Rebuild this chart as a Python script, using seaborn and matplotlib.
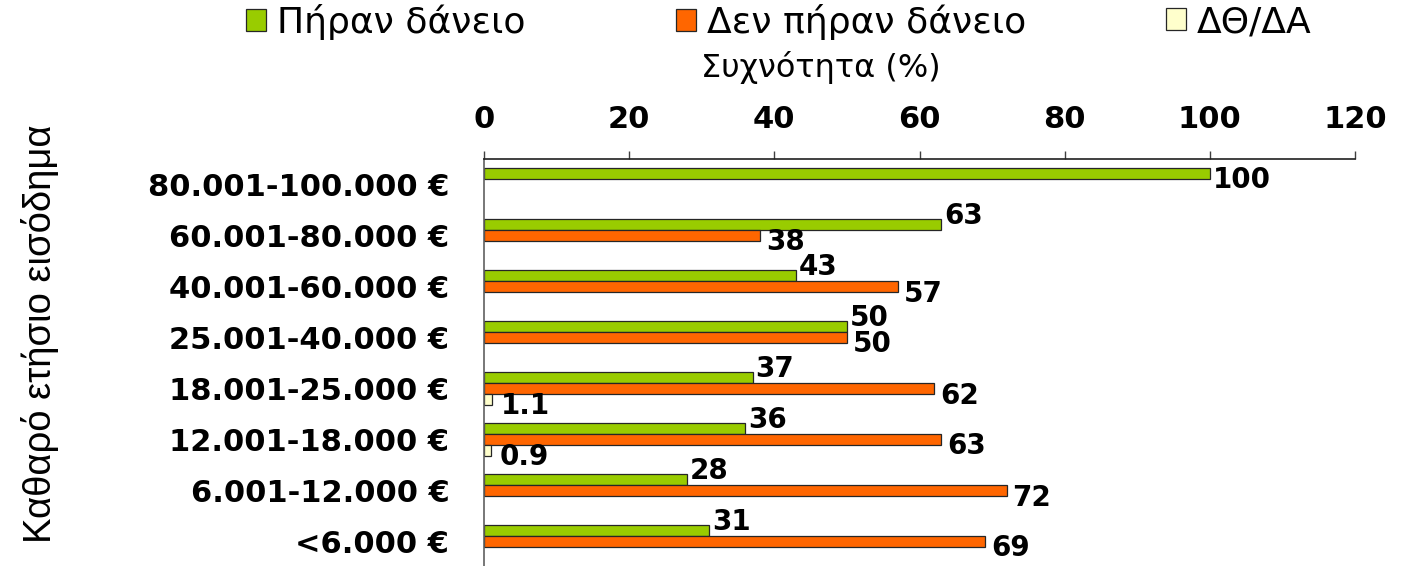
import numpy as np
import pandas as pd
import matplotlib
matplotlib.use('Agg')
from matplotlib import pyplot as plt
import seaborn as sns


categories = ['80.001-100.000 €', '60.001-80.000 €', '40.001-60.000 €', '25.001-40.000 €',
              '18.001-25.000 €', '12.001-18.000 €', '6.001-12.000 €', '<6.000 €']
series_names = ['Πήραν δάνειο', 'Δεν πήραν δάνειο', 'ΔΘ/ΔΑ']
took_loan = [100, 63, 43, 50, 37, 36, 28, 31]
no_loan = [np.nan, 38, 57, 50, 62, 63, 72, 69]
dk_na = [np.nan, np.nan, np.nan, np.nan, 1.1, 0.9, np.nan, np.nan]
x_ticks = [0, 20, 40, 60, 80, 100, 120]

colors = ['#99CC00', '#FF6600', '#FFFFCC']

df = pd.DataFrame({
    'income': categories * 3,
    'value': took_loan + no_loan + dk_na,
    'group': [series_names[0]] * 8 + [series_names[1]] * 8 + [series_names[2]] * 8,
})

sns.set_style('white')
plt.rcParams['font.family'] = ['DejaVu Sans']
plt.rcParams['text.color'] = 'black'
plt.rcParams['xtick.color'] = 'black'
plt.rcParams['ytick.color'] = 'black'

W, H = 1403, 566
fig = plt.figure(figsize=(W / 100, H / 100), dpi=100)
ax = fig.add_axes([484 / W, (H - 567) / H, (1355 - 484) / W, (567 - 159) / H])

sns.barplot(data=df, y='income', x='value', hue='group', hue_order=series_names,
            order=categories, palette=colors, saturation=1, orient='h', width=0.645,
            errorbar=None, edgecolor='#262626', linewidth=0.9, ax=ax)

handles, labels = ax.get_legend_handles_labels()
if ax.get_legend() is not None:
    ax.get_legend().remove()

ax.set_xlim(0, 120)
ax.set_ylim(len(categories) - 0.5, -0.5)
ax.set_xticks(x_ticks)
ax.xaxis.tick_top()
ax.set_xlabel('')
ax.set_ylabel('')
ax.tick_params(axis='x', top=True, bottom=False, length=6, width=1, color='#404040',
               pad=12, labelsize=22)
ax.tick_params(axis='y', left=False, length=0, pad=25, labelsize=22)
for lab in ax.get_xticklabels() + ax.get_yticklabels():
    lab.set_fontweight('bold')

for side in ['right', 'bottom']:
    ax.spines[side].set_visible(False)
ax.spines['top'].set_color('#202020')
ax.spines['left'].set_color('#606060')
ax.spines['top'].set_linewidth(1.2)
ax.spines['left'].set_linewidth(1.2)

# value labels next to bar ends
px = 0.72
for k, cont in enumerate(ax.containers):
    for bar in cont:
        w = bar.get_width()
        if w is None or np.isnan(w) or w == 0:
            continue
        yc = bar.get_y() + bar.get_height() / 2
        idx = int(round(yc))
        if k == 0:
            dy = 6 if np.isnan(no_loan[idx]) else -9
            dx = 3
        elif k == 1:
            dx, dy = 6, 7
        else:
            dx, dy = 9, 7
        ax.annotate(f'{w:g}', (w, yc), xytext=(dx * px, -dy * px), textcoords='offset points',
                    ha='left', va='center', fontsize=20, fontweight='bold', color='black')

# legend entries at their own positions
leg_x = [246, 676, 1166]
for h, l, x in zip(handles, labels, leg_x):
    fig.legend([h], [l], loc='center left', bbox_to_anchor=(x / W, 1 - 22 / H),
               frameon=False, fontsize=26, handlelength=0.55, handleheight=0.55,
               handletextpad=0.3, borderpad=0, borderaxespad=0)

fig.text(821 / W, 1 - 68 / H, 'Συχνότητα (%)', ha='center', va='center', fontsize=23)
fig.text(40 / W, 1 - 334 / H, 'Καθαρό ετήσιο εισόδημα', rotation=90, ha='center', va='center',
         fontsize=27.5, family=['Liberation Sans', 'DejaVu Sans'])

fig.savefig('out.png', dpi=100)
